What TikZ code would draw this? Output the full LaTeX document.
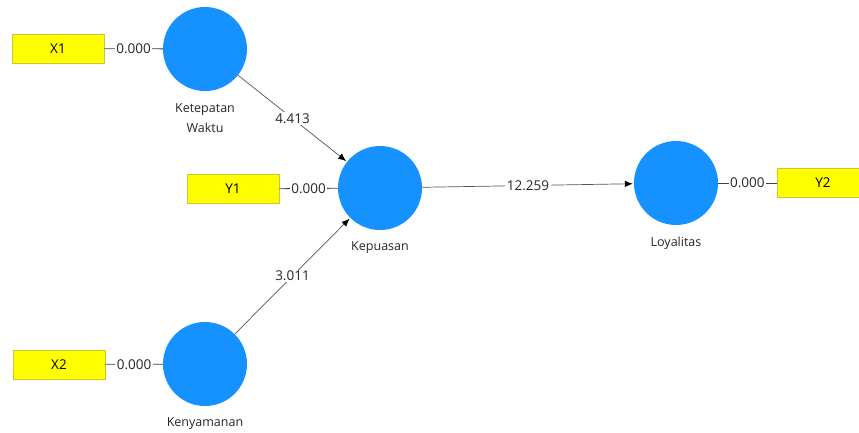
\documentclass[tikz,border=0pt]{standalone}
\usepackage{fontspec}
\setmainfont{Open Sans}
\usetikzlibrary{arrows.meta}
\definecolor{lvblue}{HTML}{1592FF}
\definecolor{indyellow}{HTML}{FFFF00}
\definecolor{indborder}{HTML}{C8C832}
\definecolor{linegray}{HTML}{555555}
\begin{document}
\begin{tikzpicture}[x=1pt,y=-1pt,
  lv/.style={circle, fill=lvblue, minimum size=84pt, inner sep=0pt},
  ind/.style={rectangle, fill=indyellow, draw=indborder, line width=0.8pt, minimum width=92pt, minimum height=29pt, inner sep=0pt, font=\fontsize{13.5}{15}\selectfont},
  lbl/.style={font=\fontsize{12.5}{20}\selectfont, align=center, text=black!85},
  val/.style={fill=white, inner sep=1.5pt, font=\fontsize{13.5}{15}\selectfont, text=black!85},
  outer/.style={draw=black!75, line width=0.8pt},
  path/.style={draw=linegray, line width=0.7pt, -{Latex[length=8pt,width=6.5pt,color=black]}, shorten >=1pt}
]
\useasboundingbox (0,0) rectangle (859,432);
\node[lv] (kw) at (205,49) {};
\node[lv] (kp) at (380,188) {};
\node[lv] (ly) at (676,183) {};
\node[lv] (ky) at (205,364) {};
\node[ind] (x1) at (58,48.5) {X1};
\node[ind] (y1) at (233,189) {Y1};
\node[ind] (y2) at (823,183) {Y2};
\node[ind] (x2) at (59,364.5) {X2};
\node[lbl] (kwl) at (205,118) {Ketepatan\\Waktu};
\node[lbl] (kpl) at (380,248) {Kepuasan};
\node[lbl] (lyl) at (676,243) {Loyalitas};
\node[lbl] (kyl) at (205,424) {Kenyamanan};
\draw[outer] (x1) -- node[val] {0.000} (kw);
\draw[outer] (y1) -- node[val] {0.000} (kp);
\draw[outer] (x2) -- node[val] {0.000} (ky);
\draw[outer] (ly) -- node[val] {0.000} (y2);
\draw[path] (kw) -- node[val] {4.413} (kp);
\draw[path] (ky) -- node[val] {3.011} (kp);
\draw[path] (kp) -- node[val] {12.259} (ly);
\end{tikzpicture}
\end{document}
